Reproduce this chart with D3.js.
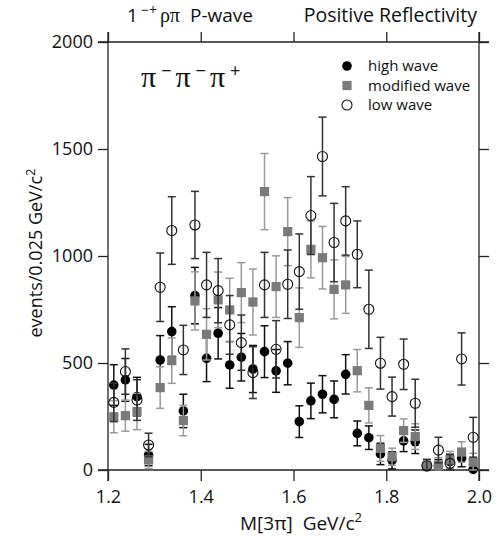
<!DOCTYPE html>
<html><head><meta charset="utf-8">
<script src="https://cdn.jsdelivr.net/npm/d3@7"></script>
<style>
html,body{margin:0;padding:0;background:#fff;}
svg{display:block;font-family:"Open Sans",sans-serif;}
</style></head>
<body><svg id="c" width="504" height="539"></svg>
<script>
const mass = [1.2125,1.2375,1.2625,1.2875,1.3125,1.3375,1.3625,1.3875,1.4125,1.4375,1.4625,1.4875,1.5125,1.5375,1.5625,1.5875,1.6125,1.6375,1.6625,1.6875,1.7125,1.7375,1.7625,1.7875,1.8125,1.8375,1.8625,1.8875,1.9125,1.9375,1.9625,1.9875];
const highWave    = [397,421,343,70,514,647,276,815,522,639,491,527,472,553,463,499,226,323,354,330,447,171,151,75,45,136,132,15,19,39,55,3];
const highErr     = [95,100,90,50,114,116,78,132,109,120,109,111,110,121,100,101,74,83,87,86,92,58,55,50,40,50,55,25,30,35,40,30];
const modifiedWave= [249,254,273,47,385,511,231,790,634,795,748,829,785,1301,857,1114,712,1031,992,844,865,464,302,101,62,184,156,16,23,47,84,36];
const modifiedErr = [75,73,85,40,97,106,71,136,120,130,148,140,154,178,144,159,139,133,146,138,133,99,82,60,40,55,60,25,35,40,48,42];
const lowWave     = [316,460,327,117,854,1119,561,1145,865,838,678,595,455,865,564,868,927,1189,1465,1063,1164,1008,751,499,343,494,312,20,93,31,519,153];
const lowErr      = [90,106,95,55,160,158,115,157,152,150,137,129,121,152,134,160,176,182,184,183,160,156,183,121,91,118,112,30,60,40,122,93];
const xTicks = [1.2,1.4,1.6,1.8,2.0];
const yTicks = [0,500,1000,1500,2000];
const legendLabels = ["high wave","modified wave","low wave"];

const svg = d3.select("#c");
const x = d3.scaleLinear().domain([1.2,2.0]).range([108,479]);
const y = d3.scaleLinear().domain([0,2000]).range([470,42]);
const axisColor = "#222";

function styleAxis(g){
  g.select(".domain").remove();
  g.selectAll(".tick line").attr("stroke",axisColor).attr("stroke-width",1.3);
  g.selectAll(".tick text").attr("fill","#111").style("font-size","18px").style("font-family","'Open Sans',sans-serif");
}
svg.append("g").attr("transform","translate(108,0)")
  .call(d3.axisLeft(y).tickValues(yTicks).tickSize(10).tickSizeOuter(0).tickPadding(5).tickFormat(d3.format("d")))
  .call(styleAxis);
svg.append("g").attr("transform","translate(479,0)")
  .call(d3.axisRight(y).tickValues(yTicks).tickSize(10).tickSizeOuter(0).tickFormat(""))
  .call(styleAxis);
svg.append("g").attr("transform","translate(0,470)")
  .call(d3.axisBottom(x).tickValues(xTicks).tickSize(11).tickSizeOuter(0).tickPadding(9).tickFormat(d3.format(".1f")))
  .call(styleAxis);
svg.append("g").attr("transform","translate(0,42)")
  .call(d3.axisTop(x).tickValues(xTicks).tickSize(10).tickSizeOuter(0).tickFormat(""))
  .call(styleAxis);
// frame lines
const frame = svg.append("g").attr("stroke",axisColor).attr("stroke-width",1.3);
frame.append("line").attr("x1",x(1.2)-10).attr("x2",x(2.0)+10).attr("y1",y(0)).attr("y2",y(0));
frame.append("line").attr("x1",x(1.2)-10).attr("x2",x(2.0)+10).attr("y1",y(2000)).attr("y2",y(2000));
frame.append("line").attr("x1",x(1.2)).attr("x2",x(1.2)).attr("y1",y(2000)-10).attr("y2",y(0)+11);
frame.append("line").attr("x1",x(2.0)).attr("x2",x(2.0)).attr("y1",y(2000)-10).attr("y2",y(0)+11);

function drawSeries(vals, errs, barColor, marker){
  const g = svg.append("g");
  const data = mass.map((m,i)=>({m, v:vals[i], e:errs[i]}));
  const eb = g.append("g").attr("stroke",barColor).attr("stroke-width",1.5);
  const cap = 4;
  data.forEach(d=>{
    const lo = Math.max(0, d.v-d.e), hi = d.v+d.e;
    eb.append("line").attr("x1",x(d.m)).attr("x2",x(d.m)).attr("y1",y(lo)).attr("y2",y(hi));
    eb.append("line").attr("x1",x(d.m)-cap).attr("x2",x(d.m)+cap).attr("y1",y(lo)).attr("y2",y(lo));
    eb.append("line").attr("x1",x(d.m)-cap).attr("x2",x(d.m)+cap).attr("y1",y(hi)).attr("y2",y(hi));
  });
  data.forEach(d=>marker(g, x(d.m), y(d.v)));
}
const filled = (g,cx,cy)=>g.append("circle").attr("cx",cx).attr("cy",cy).attr("r",4.8).attr("fill","#000");
const square = (g,cx,cy)=>g.append("rect").attr("x",cx-4.6).attr("y",cy-4.6).attr("width",9.2).attr("height",9.2).attr("fill","#7a7a7a");
const open = (g,cx,cy)=>g.append("circle").attr("cx",cx).attr("cy",cy).attr("r",5).attr("fill","none").attr("stroke","#111").attr("stroke-width",1.1);

drawSeries(highWave, highErr, "#111", filled);
drawSeries(modifiedWave, modifiedErr, "#9a9a9a", square);
drawSeries(lowWave, lowErr, "#333", open);

// legend
const lg = svg.append("g");
const markers = [filled, square, open];
legendLabels.forEach((t,i)=>{
  const ly = 66 + i*19.5;
  markers[i](lg, 347, ly);
  lg.append("text").attr("x",368).attr("y",ly+5).text(t).style("font-size","15px").attr("fill","#111");
});

// reaction label
const rl = svg.append("text").attr("x",141).attr("y",87).attr("fill","#111").style("font-size","30px").style("font-family","'Liberation Serif',serif");
rl.append("tspan").text("π");
rl.append("tspan").text("−").attr("dy",-10).attr("dx",5).style("font-size","18px").style("font-family","'Open Sans',sans-serif");
rl.append("tspan").text("π").attr("dy",10).attr("dx",4);
rl.append("tspan").text("−").attr("dy",-10).attr("dx",5).style("font-size","18px").style("font-family","'Open Sans',sans-serif");
rl.append("tspan").text("π").attr("dy",10).attr("dx",4);
rl.append("tspan").text("+").attr("dy",-10).attr("dx",5).style("font-size","18px").style("font-family","'Open Sans',sans-serif");

// title
const t1 = svg.append("text").attr("x",127).attr("y",22).attr("fill","#111").style("font-size","19px");
t1.append("tspan").text("1");
t1.append("tspan").text("−+").attr("dy",-7).attr("dx",3).style("font-size","14px");
t1.append("tspan").text("ρπ").attr("dy",7).attr("dx",3).style("font-family","'Liberation Serif',serif").style("font-size","20px");
t1.append("tspan").text("P-wave").attr("dx",10);
svg.append("text").attr("x",477).attr("y",22).attr("text-anchor","end").attr("fill","#111").style("font-size","19.5px").text("Positive Reflectivity");

// axis titles
const xl = svg.append("text").attr("x",301).attr("y",530).attr("text-anchor","middle").attr("fill","#111").style("font-size","19px");
xl.append("tspan").text("M[3π]\u00a0\u00a0GeV/c");
xl.append("tspan").text("2").attr("dy",-8).style("font-size","13px");
const yl = svg.append("text").attr("transform","translate(42,253) rotate(-90)").attr("text-anchor","middle").attr("fill","#111").style("font-size","18px");
yl.append("tspan").text("events/0.025 GeV/c");
yl.append("tspan").text("2").attr("dy",-7).style("font-size","13px");
</script></body></html>
